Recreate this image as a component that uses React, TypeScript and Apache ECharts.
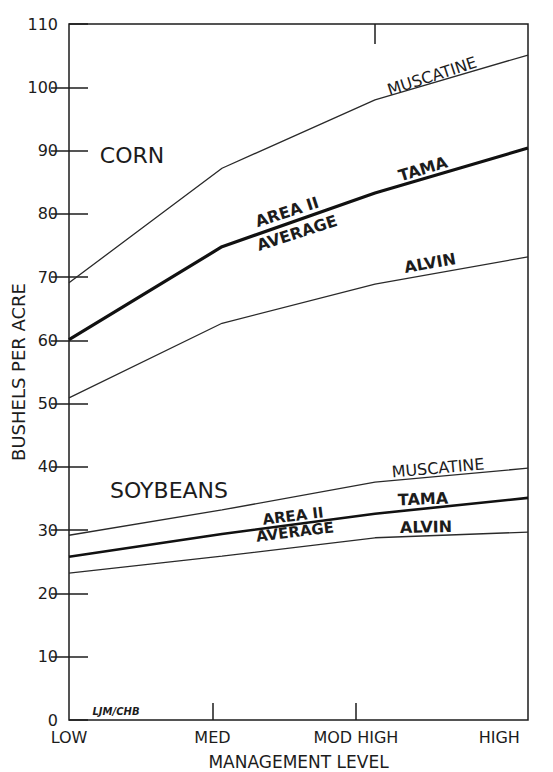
import React, { useEffect, useRef } from "react";
import * as echarts from "echarts";

const categories = ["LOW", "MED", "MOD HIGH", "HIGH"];
const levels = [0, 1, 2, 3];
const cornMuscatine = [69.1, 87.2, 98.0, 105.1];
const cornTama = [60.1, 74.8, 83.3, 90.4];
const cornAlvin = [50.9, 62.7, 68.9, 73.2];
const soyMuscatine = [29.2, 33.2, 37.6, 39.8];
const soyTama = [25.8, 29.4, 32.6, 35.1];
const soyAlvin = [23.2, 25.9, 28.8, 29.7];
const rightTicks = [10, 20, 30, 40, 50, 60, 70, 80, 90, 100];

const INK = "#1c1c1c";
const FONT = "DejaVu Sans";

function pts(vals: number[]) {
  return levels.map((x, i) => [x, vals[i]]);
}

function label(text: string, x: number, y: number, deg: number, size: number, weight: string = "normal", style: string = "normal") {
  return {
    type: "text",
    x,
    y,
    rotation: (deg * Math.PI) / 180,
    silent: true,
    style: {
      text,
      x: 0,
      y: 0,
      align: "center",
      verticalAlign: "middle",
      textAlign: "center",
      textVerticalAlign: "middle",
      fill: INK,
      font: `${style} ${weight} ${size}px "${FONT}"`,
    },
  };
}

export default function App() {
  const ref = useRef<HTMLDivElement>(null);
  useEffect(() => {
    if (!ref.current) return;
    const chart = echarts.init(ref.current, undefined, { renderer: "svg" });
    const thin = { color: "#2a2a2a", width: 1.3 };
    const thick = { color: "#111", width: 3.2 };
    const mk = (name: string, vals: number[], ls: any) => ({
      name,
      type: "line",
      xAxisIndex: 0,
      yAxisIndex: 0,
      data: pts(vals),
      symbol: "none",
      lineStyle: ls,
      silent: true,
    });
    chart.setOption({
      animation: false,
      backgroundColor: "#fff",
      grid: {
        left: 69,
        right: 25,
        top: 24,
        bottom: 52,
        containLabel: false,
        outerBoundsMode: "none",
        show: true,
        borderColor: INK,
        borderWidth: 1.5,
        backgroundColor: "transparent",
      },
      xAxis: [
        { type: "value", min: 0, max: 3, show: false },
        {
          type: "value",
          min: 0,
          max: 3.2,
          position: "bottom",
          axisLine: { show: false },
          splitLine: { show: false },
          axisTick: { show: true, inside: true, length: 17, customValues: [1, 2], lineStyle: { color: INK, width: 1.5 } },
          axisLabel: {
            customValues: levels,
            formatter: (v: number) => categories[Math.round(v)] ?? "",
            margin: 9,
            fontSize: 16,
            fontFamily: FONT,
            color: INK,
          },
          name: "MANAGEMENT LEVEL",
          nameLocation: "middle",
          nameGap: 33,
          nameMoveOverlap: false,
          nameTextStyle: { fontSize: 17, fontFamily: FONT, color: INK },
        },
        {
          type: "value",
          min: 0,
          max: 3,
          position: "top",
          axisLine: { show: false },
          splitLine: { show: false },
          axisLabel: { show: false },
          axisTick: { show: true, inside: true, length: 20, customValues: [2], lineStyle: { color: INK, width: 1.5 } },
        },
      ],
      yAxis: [
        {
          type: "value",
          min: 0,
          max: 110,
          interval: 10,
          position: "left",
          axisLine: { show: false },
          splitLine: { show: false },
          axisTick: { show: true, inside: true, length: 19, lineStyle: { color: INK, width: 1.5 } },
          axisLabel: { margin: 11, fontSize: 16, fontFamily: FONT, color: INK },
          name: "BUSHELS PER ACRE",
          nameLocation: "middle",
          nameGap: 42,
          nameRotate: 90,
          nameMoveOverlap: false,
          nameTextStyle: { fontSize: 18, fontFamily: FONT, color: INK },
        },
        {
          type: "value",
          min: 0,
          max: 110,
          interval: 10,
          position: "right",
          axisLine: { show: false },
          splitLine: { show: false },
          axisLabel: { show: false },
          axisTick: { show: true, inside: true, length: 18, customValues: rightTicks, lineStyle: { color: INK, width: 1.5 } },
        },
      ],
      series: [
        mk("Corn Muscatine", cornMuscatine, thin),
        mk("Corn Tama", cornTama, thick),
        mk("Corn Alvin", cornAlvin, thin),
        mk("Soybeans Muscatine", soyMuscatine, thin),
        mk("Soybeans Tama", soyTama, { color: "#111", width: 2.6 }),
        mk("Soybeans Alvin", soyAlvin, thin),
      ],
      graphic: [
        label("CORN", 132, 155, 0, 22),
        label("SOYBEANS", 169, 490, 0, 22),
        label("MUSCATINE", 432, 76, 18, 16),
        label("TAMA", 423, 169, 17, 16, "bold"),
        label("AREA II", 287, 212, 18, 16, "bold"),
        label("AVERAGE", 297, 233, 18, 16, "bold"),
        label("ALVIN", 430, 263, 10, 16, "bold"),
        label("MUSCATINE", 438, 468, 5, 16),
        label("TAMA", 423, 499, 2, 16, "bold"),
        label("AREA II", 293, 516, 7, 15, "bold"),
        label("AVERAGE", 295, 532, 7, 15, "bold"),
        label("ALVIN", 426, 527, 1, 16, "bold"),
        label("LJM/CHB", 116, 711, 0, 10, "bold", "italic"),
      ],
    });
    return () => chart.dispose();
  }, []);
  return <div ref={ref} style={{ position: "absolute", left: 0, top: 0, width: 553, height: 772 }} />;
}
